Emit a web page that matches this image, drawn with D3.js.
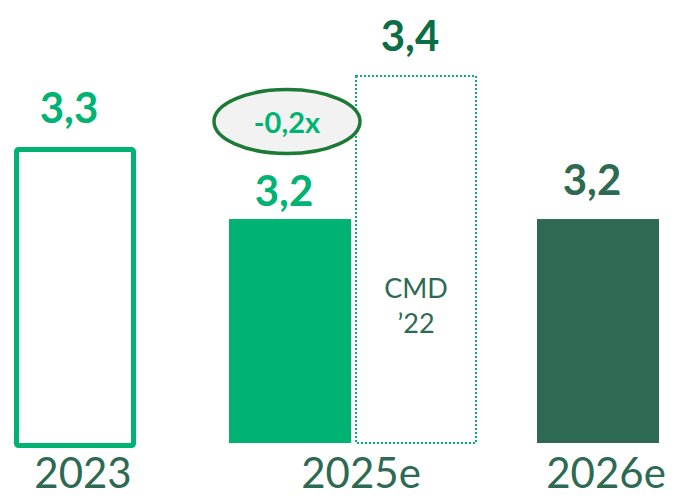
<!DOCTYPE html>
<html>
<head>
<meta charset="utf-8">
<script src="https://cdn.jsdelivr.net/npm/d3@7"></script>
<style>
  body { margin: 0; background: #fff; }
  svg { display: block; font-family: Lato, "Open Sans", sans-serif; }
</style>
</head>
<body>
<script>
// chart data
const categories = ['2023', '2025e', '2026e'];
const barKeys = ['2023', '2025e', 'CMD', '2026e'];
const barGroups = ['2023', '2025e', '2025e', '2026e'];
const barValues = [3.3, 3.2, 3.4, 3.2];
const barLabels = ['3,3', '3,2', '3,4', '3,2'];
const deltaLabel = '-0,2x';
const cmdLabel = ['CMD', '\u201922'];

const W = 681, H = 497;
const green = '#00b373', darkGreen = '#2e6a53', deepGreen = '#0b6e46';

const svg = d3.select('body').append('svg')
  .attr('width', W)
  .attr('height', H);

// group centres along x, bars are 122px wide
const xGroup = d3.scaleOrdinal().domain(categories).range([75, 353, 598]);
const barW = 122, gap = 4;

// value axis is cut below (not zero based), like the slide
const y = d3.scaleLinear().domain([2.889, 3.4]).range([443, 75]);

const bars = barKeys.map((k, i) => {
  const c = xGroup(barGroups[i]);
  let x0 = c - barW / 2;
  if (k === '2025e') x0 = c - gap / 2 - barW;
  if (k === 'CMD') x0 = c + gap / 2;
  return { key: k, value: barValues[i], label: barLabels[i], x0: x0 };
});

// bars
bars.forEach((b) => {
  const top = y(b.value), bottom = y.range()[0];
  const g = svg.append('g');
  if (b.key === '2023') {
    g.append('rect')
      .attr('x', b.x0 + 2.5).attr('y', top + 2.5)
      .attr('width', barW - 5).attr('height', bottom - top)
      .attr('rx', 2)
      .attr('fill', 'none')
      .attr('stroke', green)
      .attr('stroke-width', 5);
  } else if (b.key === 'CMD') {
    g.append('rect')
      .attr('x', b.x0 + 1).attr('y', top + 1)
      .attr('width', barW - 2).attr('height', bottom - top - 1)
      .attr('fill', 'none')
      .attr('stroke', green)
      .attr('stroke-width', 2)
      .attr('stroke-dasharray', '2,2');
  } else {
    g.append('rect')
      .attr('x', b.x0).attr('y', top)
      .attr('width', barW).attr('height', bottom - top)
      .attr('fill', b.key === '2025e' ? green : darkGreen);
  }
});

// value labels above bars
svg.selectAll('.val')
  .data(bars)
  .enter()
  .append('text')
  .attr('class', 'val')
  .attr('x', (d) => d.x0 + barW / 2 - 6)
  .attr('y', (d) => y(d.value) - (d.key === '2025e' ? 13 : 24))
  .attr('text-anchor', 'middle')
  .style('font-size', '42px')
  .style('font-weight', 700)
  .style('fill', (d) => d.key === 'CMD' ? deepGreen : (d.key === '2026e' ? darkGreen : green))
  .text((d) => d.label);

// CMD '22 text inside dotted bar
const cmd = bars[2];
svg.selectAll('.cmd')
  .data(cmdLabel)
  .enter()
  .append('text')
  .attr('class', 'cmd')
  .attr('x', cmd.x0 + barW / 2)
  .attr('y', (d, i) => 298 + i * 35)
  .attr('text-anchor', 'middle')
  .style('font-size', '27px')
  .style('fill', darkGreen)
  .text((d) => d);

// delta bubble
const act = bars[1];
const ex = act.x0 + barW / 2 - 3, ey = 121.5;
svg.append('ellipse')
  .attr('cx', ex).attr('cy', ey)
  .attr('rx', 73).attr('ry', 32)
  .attr('fill', '#f2f2f2')
  .attr('stroke', '#1c7a36')
  .attr('stroke-width', 3.5);
svg.append('text')
  .attr('x', ex).attr('y', ey + 11)
  .attr('text-anchor', 'middle')
  .style('font-size', '29px')
  .style('font-weight', 700)
  .style('fill', green)
  .text(deltaLabel);

// category labels
svg.selectAll('.cat')
  .data(categories)
  .enter()
  .append('text')
  .attr('class', 'cat')
  .attr('x', (d) => xGroup(d) + 8)
  .attr('y', 488)
  .attr('text-anchor', 'middle')
  .style('font-size', '42px')
  .style('fill', darkGreen)
  .text((d) => d);
</script>
</body>
</html>
